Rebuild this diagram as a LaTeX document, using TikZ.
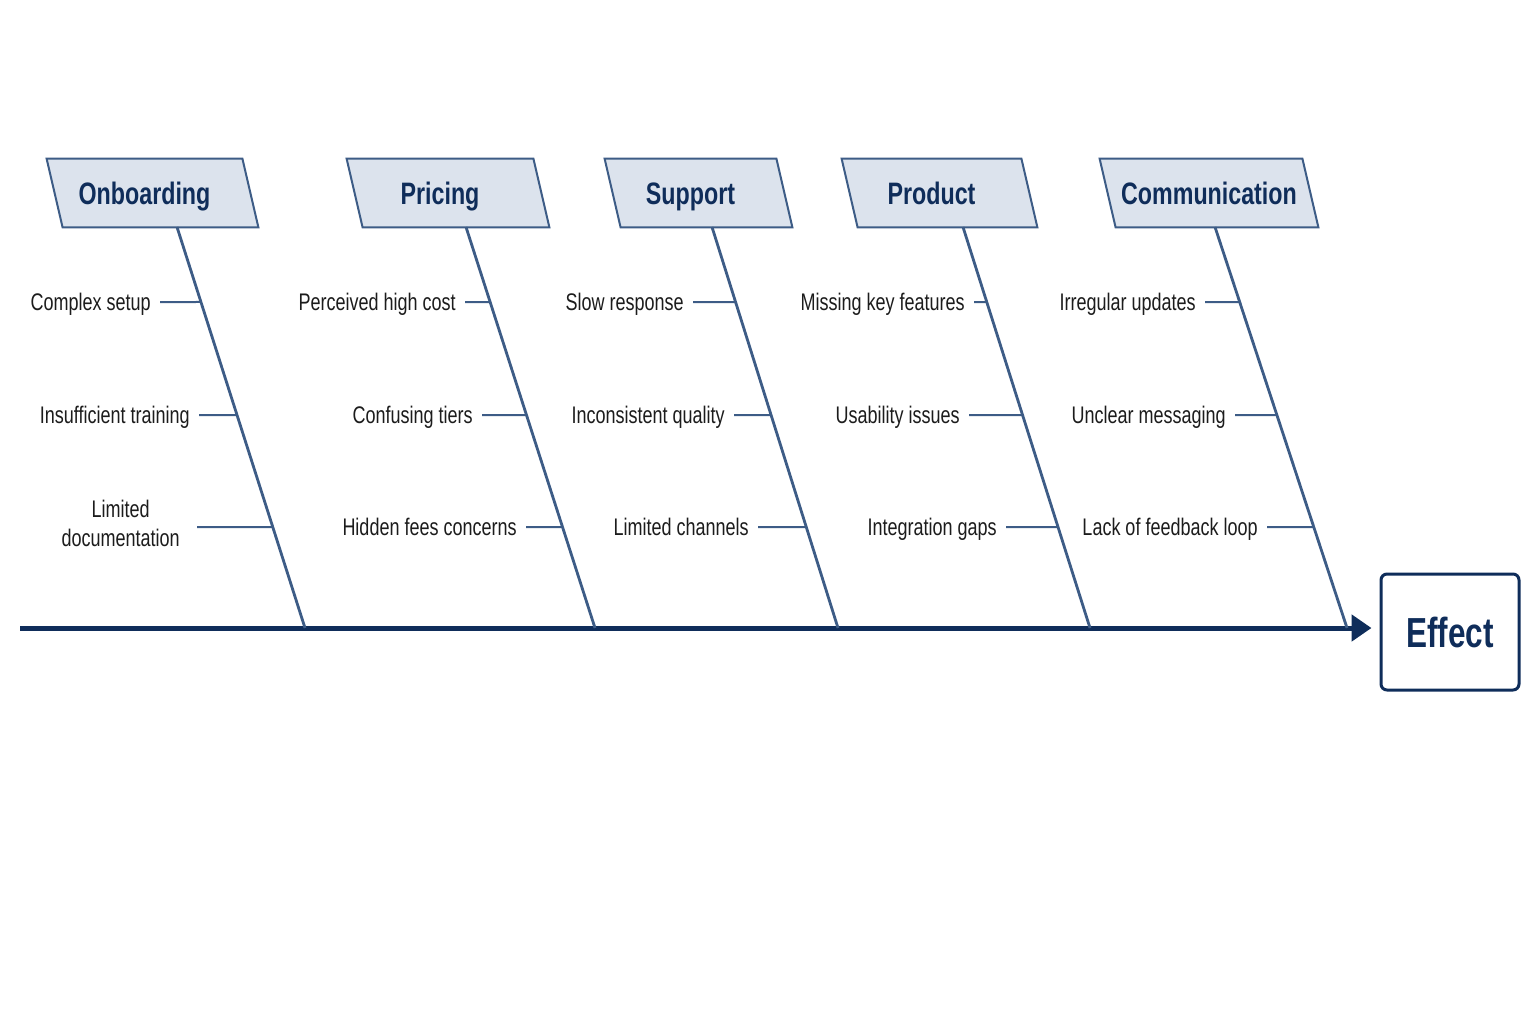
\documentclass[tikz,border=0pt]{standalone}
\usepackage{fontspec}
\setmainfont{Liberation Sans}[FakeStretch=0.75]
\usetikzlibrary{arrows.meta,backgrounds}
\definecolor{navy}{HTML}{0F2D5A}
\definecolor{slate}{HTML}{3D5C86}
\definecolor{boxfill}{HTML}{DCE3ED}
\definecolor{ink}{HTML}{1C1C1C}
\tikzset{category/.style = {minimum width=#1,minimum height=34pt,inner sep=0pt,text height=11pt,text depth=0pt,font=\fontsize{15.5}{18}\selectfont\bfseries,text=navy}}
\tikzset{catshape/.style = {draw=slate,fill=boxfill,line width=1pt}}
\tikzset{bone/.style = {draw=slate,line width=1.4pt}}
\tikzset{twig/.style = {draw=slate,line width=1pt}}
\tikzset{cause/.style = {anchor=east,inner xsep=4.5pt,inner ysep=0pt,text height=8.5pt,text depth=0pt,font=\fontsize{12}{14.5}\selectfont,text=ink}}
\tikzset{spine/.style = {draw=navy,line width=2.5pt,-{Triangle[length=10pt,width=13pt]}}}
\tikzset{effect/.style = {draw=navy,line width=1.5pt,rounded corners=3pt,minimum width=69pt,minimum height=58pt,font=\fontsize{21}{24}\selectfont\bfseries,text=navy}}

\begin{document}
\begin{tikzpicture}[x=0.5pt,y=-0.5pt]
	\useasboundingbox (0,0) rectangle (1536,1024);

	% categories
	\node[category=97.5pt] (ob) at (144.5,193) {Onboarding};
	\node[category=93pt] (pr) at (440,193) {Pricing};
	\node[category=85.5pt] (su) at (690.5,193) {Support};
	\node[category=89.5pt] (pd) at (931.5,193) {Product};
	\node[category=101pt] (co) at (1201,193) {\hspace*{8pt}Communication};
	\begin{scope}[on background layer]
		\foreach \c in {ob,pr,su,pd,co}
			\draw[catshape] (\c.north west) -- (\c.north east) -- ([xshift=8pt]\c.south east) -- ([xshift=8pt]\c.south west) -- cycle;
	\end{scope}

	% effect and spine
	\node[effect] (eff) at (1450,632) {Effect};
	\coordinate (tail) at (20,628);
	\draw[spine,shorten >=4pt] (tail) -- (tail -| eff.west);

	% bones
	\coordinate (obtop) at (177,227);
	\coordinate (obfoot) at (305,628);
	\coordinate (prtop) at (466,227);
	\coordinate (prfoot) at (595,628);
	\coordinate (sutop) at (712,227);
	\coordinate (sufoot) at (838,628);
	\coordinate (pdtop) at (963,227);
	\coordinate (pdfoot) at (1090,628);
	\coordinate (cotop) at (1215,227);
	\coordinate (cofoot) at (1347,628);
	\foreach \c in {ob,pr,su,pd,co}
		\draw[bone] (\c top) -- (\c foot);

	% causes
	\node[cause] (ob1) at (160,302) {Complex setup};
	\node[cause] (ob2) at (199,415) {Insufficient training};
	\node[cause,align=center,text height={},text depth={}] (ob3) at (189,523) {Limited\\documentation};
	\node[cause] (pr1) at (465,302) {Perceived high cost};
	\node[cause] (pr2) at (482,415) {Confusing tiers};
	\node[cause] (pr3) at (526,527) {Hidden fees concerns};
	\node[cause] (su1) at (693,302) {Slow response};
	\node[cause] (su2) at (734,415) {Inconsistent quality};
	\node[cause] (su3) at (758,527) {Limited channels};
	\node[cause] (pd1) at (974,302) {Missing key features};
	\node[cause] (pd2) at (969,415) {Usability issues};
	\node[cause] (pd3) at (1006,527) {Integration gaps};
	\node[cause] (co1) at (1205,302) {Irregular updates};
	\node[cause] (co2) at (1235,415) {Unclear messaging};
	\node[cause] (co3) at (1267,527) {Lack of feedback loop};

	% twigs
	\foreach \c in {ob,pr,su,pd,co}
		\foreach \i in {1,2}
			\draw[twig] (\c\i.east) -- (intersection of \c top--\c foot and \c\i.east--\c\i.west);
	\foreach \c in {pr,su,pd,co}
		\draw[twig] (\c3.east) -- (intersection of \c top--\c foot and \c3.east--\c3.west);
	\coordinate (ob3a) at (197,527);
	\draw[twig] (ob3a) -- (intersection of obtop--obfoot and ob3a--ob1.west |- ob3a);
\end{tikzpicture}
\end{document}
